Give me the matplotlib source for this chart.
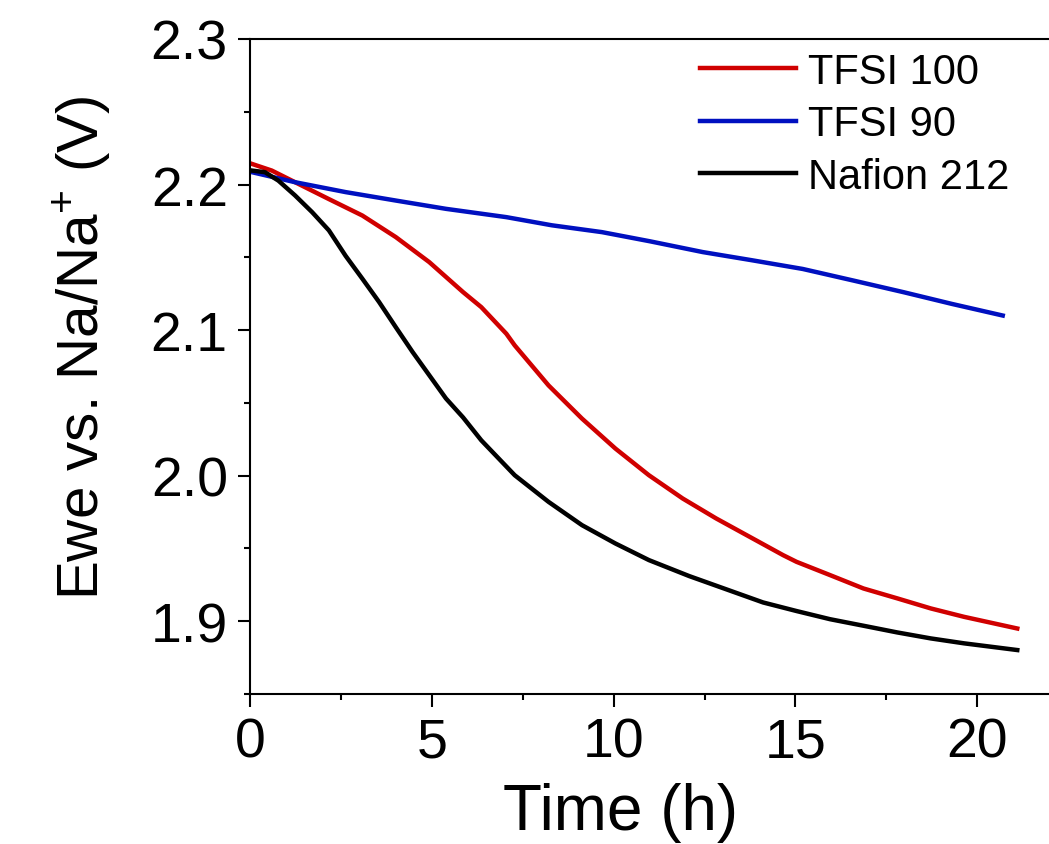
import numpy as np
import matplotlib
matplotlib.use('Agg')
import matplotlib.pyplot as plt
from matplotlib.ticker import MultipleLocator, FormatStrFormatter

plt.rcParams['font.family'] = 'Liberation Sans'
plt.rcParams['mathtext.fontset'] = 'custom'
plt.rcParams['mathtext.rm'] = 'Liberation Sans'

# Ewe (V) against time (h), read per cell
t_tfsi100 = [0.05, 0.6, 1.24, 2.17, 3.09, 4.01, 4.93, 5.86, 6.36, 7.05, 7.28, 8.21,
             9.13, 10.05, 10.97, 11.9, 12.82, 13.74, 14.66, 15.03, 15.95, 16.87,
             17.8, 18.72, 19.64, 21.1]
v_tfsi100 = [2.2142, 2.2096, 2.2016, 2.190, 2.1787, 2.1639, 2.1467, 2.1261, 2.1158,
             2.0975, 2.0895, 2.062, 2.0392, 2.0186, 2.0003, 1.9843, 1.9706, 1.958,
             1.9454, 1.9408, 1.9317, 1.9225, 1.9157, 1.9088, 1.903, 1.895]

t_tfsi90 = [0.05, 1.24, 2.63, 4.01, 5.39, 7.05, 8.3, 9.68, 11.0, 12.45, 13.8, 15.2,
            16.6, 17.98, 19.3, 20.7]
v_tfsi90 = [2.2085, 2.2016, 2.1948, 2.189, 2.1833, 2.1776, 2.172, 2.1673, 2.161,
            2.1536, 2.148, 2.142, 2.134, 2.126, 2.118, 2.110]

t_nafion = [0.05, 0.41, 0.78, 1.24, 1.71, 2.17, 2.63, 3.09, 3.55, 4.01, 4.47, 4.93,
            5.39, 5.86, 6.36, 7.28, 8.21, 9.13, 10.05, 10.97, 12.08, 14.11, 15.03,
            15.95, 16.87, 17.8, 18.72, 19.64, 21.1]
v_nafion = [2.2096, 2.2085, 2.2027, 2.1925, 2.181, 2.1685, 2.151, 2.1353, 2.1193,
            2.102, 2.085, 2.069, 2.053, 2.040, 2.0243, 2.0003, 1.982, 1.966, 1.9534,
            1.942, 1.931, 1.9129, 1.907, 1.9014, 1.8969, 1.8923, 1.8882, 1.8848, 1.8802]

fig = plt.figure(figsize=(10.49, 8.45), dpi=100)
ax = fig.add_axes([0.2383, 0.1775, 0.78, 0.7752])

ax.plot(t_tfsi100, v_tfsi100, color='#D00000', lw=3.2, label='TFSI 100')
ax.plot(t_tfsi90, v_tfsi90, color='#0010C0', lw=3.2, label='TFSI 90')
ax.plot(t_nafion, v_nafion, color='black', lw=3.2, label='Nafion 212')

ax.set_xlim(0, 22.5)
ax.set_ylim(1.85, 2.3)
ax.xaxis.set_major_locator(MultipleLocator(5))
ax.xaxis.set_minor_locator(MultipleLocator(2.5))
ax.yaxis.set_major_locator(MultipleLocator(0.1))
ax.yaxis.set_minor_locator(MultipleLocator(0.05))
ax.yaxis.set_major_formatter(FormatStrFormatter('%.1f'))

for s in ax.spines.values():
    s.set_linewidth(1.5)
ax.tick_params(which='major', direction='out', length=9, width=1.5, labelsize=40, pad=7)
ax.tick_params(which='minor', direction='out', length=4.5, width=1.5)

ax.set_xlabel('Time (h)', fontsize=46, labelpad=10)
ax.xaxis.label.set_x(0.4535)
ax.set_ylabel('Ewe vs. Na/Na$^{\\mathregular{+}}$ (V)', fontsize=42, labelpad=26)
ax.yaxis.label.set_y(0.53)

ax.legend(loc='upper left', bbox_to_anchor=(700 / 1049, 1 - 53 / 845),
          bbox_transform=fig.transFigure, frameon=False, fontsize=30,
          handlelength=2.3, handletextpad=0.3, labelspacing=0.3,
          borderpad=0, borderaxespad=0)

fig.savefig('out.png', dpi=100)
